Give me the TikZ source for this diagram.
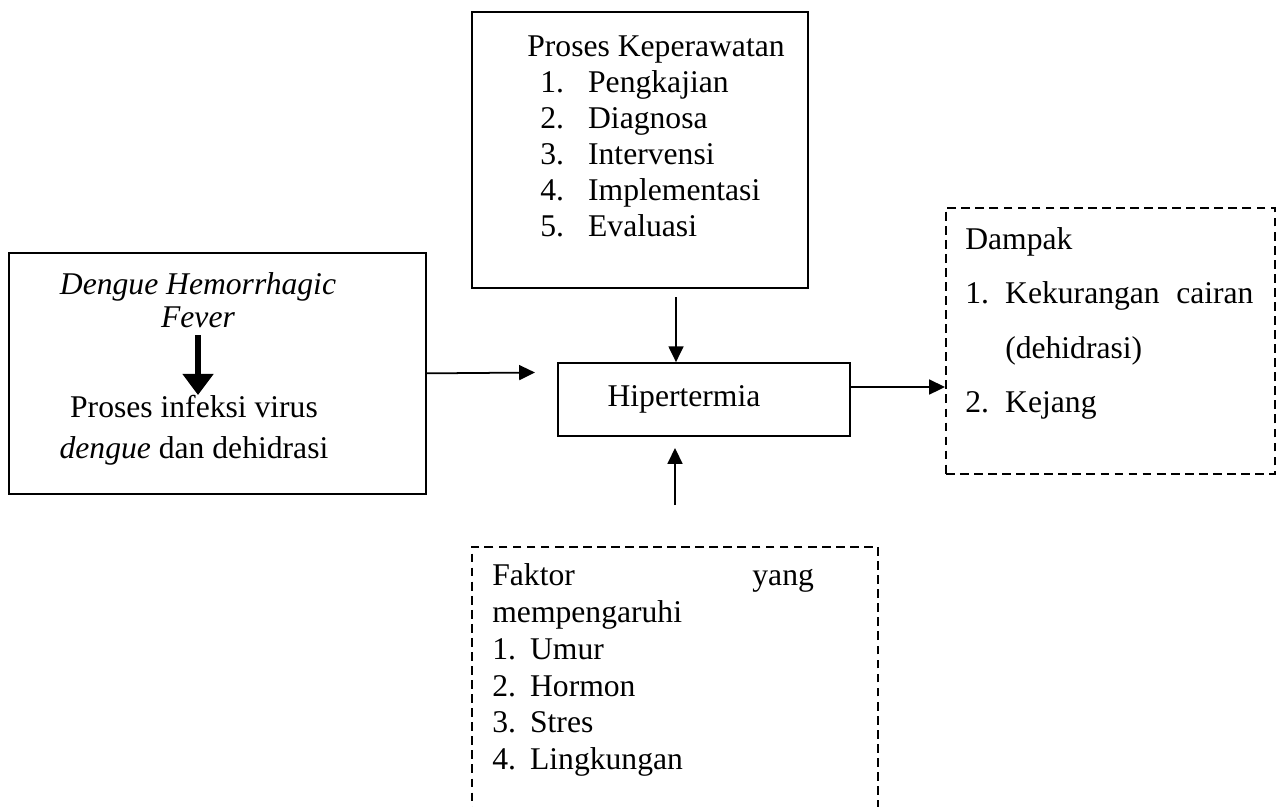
\documentclass[tikz,border=0pt]{standalone}
\usepackage{fontspec}
\setmainfont{Liberation Serif}
\usetikzlibrary{arrows.meta,calc}

\tikzset{
  kotak/.style={draw, line width=1pt, inner sep=0pt, anchor=north west},
  kotakputus/.style={kotak, dash pattern=on 5pt off 3pt},
  isi/.style={inner sep=0pt, anchor=north west, align=left},
  panah/.style={line width=1pt, -{Triangle[length=9pt,width=8.5pt]}},
  panahtebal/.style={line width=3.2pt, -{Triangle[length=12pt,width=17pt]}}
}
\newcommand{\butir}[2]{\makebox[#1][l]{#2}}

\begin{document}
\begin{tikzpicture}[x=0.02cm, y=-0.02cm]
  \useasboundingbox (0,0) rectangle (1277,806);

  \node[kotak, minimum width=8.34cm, minimum height=4.82cm] (dhfbox) at (8,252) {};
  \node[inner sep=0pt, anchor=north, align=center, font=\fontsize{18}{19}\selectfont\itshape] (dhf) at (198,272) {Dengue Hemorrhagic\\ Fever};
  \node[inner sep=0pt, anchor=north, align=center, font=\fontsize{18}{23}\selectfont] (infeksi) at (194,395) {Proses infeksi virus\\ \textit{dengue} dan dehidrasi};
  \draw[panahtebal, shorten <=4pt] (dhf.south) -- (dhf.south |- infeksi.north);

  \node[kotak, minimum width=6.72cm, minimum height=5.52cm] (proses) at (471,11) {};
  \node[isi, font=\fontsize{18}{20.5}\selectfont] (prosesisi) at (527,35) {Proses Keperawatan\\
    \hspace*{7.4pt}\butir{27.2pt}{1.}Pengkajian\\
    \hspace*{7.4pt}\butir{27.2pt}{2.}Diagnosa\\
    \hspace*{7.4pt}\butir{27.2pt}{3.}Intervensi\\
    \hspace*{7.4pt}\butir{27.2pt}{4.}Implementasi\\
    \hspace*{7.4pt}\butir{27.2pt}{5.}Evaluasi};

  \node[draw, line width=1pt, minimum width=5.84cm, minimum height=1.46cm, font=\fontsize{18}{20.5}\selectfont] (hiper) at (704,399.5) {\hspace*{-0.8cm}Hipertermia};

  \node[kotakputus, minimum width=6.58cm, minimum height=5.32cm] (dampak) at (945,207) {};
  \node[isi, font=\fontsize{18}{31}\selectfont] (dampakisi) at (965,227) {Dampak\\
    \makebox[164pt][l]{\butir{22.7pt}{1.}Kekurangan\hfill cairan}\\
    \hspace*{22.7pt}(dehidrasi)\\
    \butir{22.7pt}{2.}Kejang};

  \node[kotakputus, minimum width=8.12cm, minimum height=6.4cm] (faktor) at (471,546) {};
  \node[isi, font=\fontsize{18}{21}\selectfont] (faktorisi) at (492,563) {\makebox[183pt][l]{Faktor\hfill yang}\\
    mempengaruhi\\
    \butir{21.5pt}{1.}Umur\\
    \butir{21.5pt}{2.}Hormon\\
    \butir{21.5pt}{3.}Stres\\
    \butir{21.5pt}{4.}Lingkungan};

  \coordinate (ujungkiri) at (535,372.5);
  \draw[panah] (dhfbox.east) -- (ujungkiri);
  \coordinate (pangkalatas) at (676,297);
  \draw[panah] (pangkalatas) -- (pangkalatas |- hiper.north);
  \coordinate (pangkalbawah) at (675,505);
  \coordinate (ujungbawah) at (675,448);
  \draw[panah] (pangkalbawah) -- (ujungbawah);
  \draw[panah] (hiper.east |- 0,387) -- (dampak.west |- 0,387);
\end{tikzpicture}
\end{document}
